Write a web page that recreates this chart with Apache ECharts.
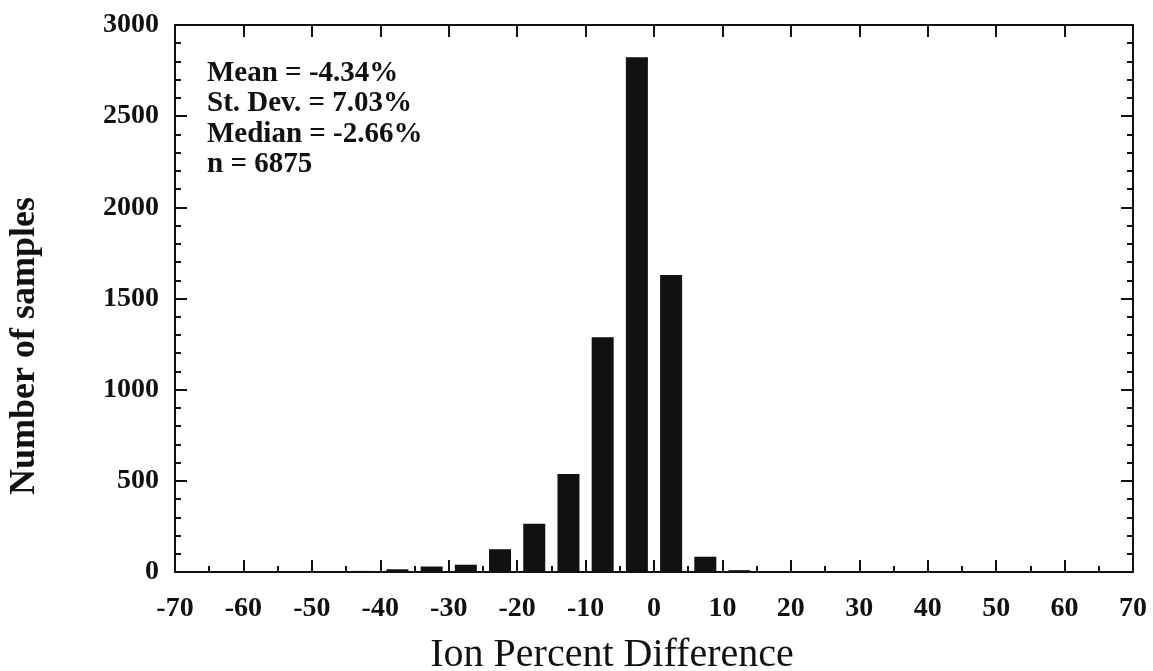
<!DOCTYPE html>
<html>
<head>
<meta charset="utf-8">
<script src="https://cdn.jsdelivr.net/npm/echarts@6/dist/echarts.min.js"></script>
<style>
  html, body { margin: 0; padding: 0; background: #fff; }
  #chart { width: 1153px; height: 671px; }
</style>
</head>
<body>
<div id="chart"></div>
<script>
// Histogram of ion percent differences, 5-point bins
const binCenters = [-67.5, -62.5, -57.5, -52.5, -47.5, -42.5, -37.5, -32.5, -27.5, -22.5,
                    -17.5, -12.5, -7.5, -2.5, 2.5, 7.5, 12.5, 17.5, 22.5, 27.5,
                    32.5, 37.5, 42.5, 47.5, 52.5, 57.5, 62.5, 67.5];
const sampleCounts = [0, 1, 3, 4, 3, 6, 15, 30, 40, 125,
                      265, 537, 1287, 2823, 1629, 84, 10, 5, 2, 2,
                      1, 1, 1, 1, 0, 0, 0, 0];
const xTicks = { min: -70, max: 70, step: 10 };
const yTicks = { min: 0, max: 3000, step: 500 };
const statLines = ['Mean = -4.34%', 'St. Dev. = 7.03%', 'Median = -2.66%', 'n = 6875'];

const ink = '#111';
const serif = '"Liberation Serif", "Times New Roman", serif';

const chart = echarts.init(document.getElementById('chart'), null, { renderer: 'canvas' });

const plainNumber = (v) => String(v);

const baseX = {
  type: 'value', min: xTicks.min, max: xTicks.max, interval: xTicks.step,
  splitLine: { show: false },
  axisLine: { show: true, onZero: false, lineStyle: { color: ink, width: 2 } }
};
const baseY = {
  type: 'value', min: yTicks.min, max: yTicks.max, interval: yTicks.step,
  splitLine: { show: false },
  axisLine: { show: true, onZero: false, lineStyle: { color: ink, width: 2 } }
};

chart.setOption({
  animation: false,
  backgroundColor: '#fff',
  grid: { left: 175, right: 20, top: 25, bottom: 99, containLabel: false, outerBoundsMode: 'none' },
  xAxis: [
    Object.assign({}, baseX, {
      position: 'bottom',
      axisTick: { show: true, inside: true, length: 12, lineStyle: { color: ink, width: 2 } },
      minorTick: { show: true, splitNumber: 2, length: 6, lineStyle: { color: ink, width: 2 } },
      axisLabel: { show: true, margin: 23, color: ink, fontFamily: serif, fontWeight: 'bold', fontSize: 28, formatter: plainNumber }
    }),
    Object.assign({}, baseX, {
      position: 'top',
      axisTick: { show: true, inside: true, length: 12, lineStyle: { color: ink, width: 2 } },
      axisLabel: { show: false }
    })
  ],
  yAxis: [
    Object.assign({}, baseY, {
      position: 'left',
      axisTick: { show: true, inside: true, length: 12, lineStyle: { color: ink, width: 2 } },
      minorTick: { show: true, splitNumber: 5, length: 6, lineStyle: { color: ink, width: 2 } },
      axisLabel: { show: true, margin: 16, color: ink, fontFamily: serif, fontWeight: 'bold', fontSize: 28, formatter: plainNumber }
    }),
    Object.assign({}, baseY, {
      position: 'right',
      axisTick: { show: true, inside: true, length: 12, lineStyle: { color: ink, width: 2 } },
      minorTick: { show: true, splitNumber: 5, length: 6, lineStyle: { color: ink, width: 2 } },
      axisLabel: { show: false }
    })
  ],
  graphic: [
    {
      type: 'text', left: 207, top: 58, silent: true,
      style: {
        text: statLines.join('\n'),
        fill: ink, font: 'bold 29px ' + serif, lineHeight: 30.5
      }
    },
    {
      type: 'text', x: 25, y: 346, rotation: Math.PI / 2, silent: true,
      style: {
        text: 'Number of samples',
        fill: ink, font: 'bold 36px ' + serif,
        align: 'center', verticalAlign: 'middle'
      }
    },
    {
      type: 'text', x: 612, y: 655, silent: true,
      style: {
        text: 'Ion Percent Difference',
        fill: ink, font: '40px ' + serif,
        align: 'center', verticalAlign: 'middle'
      }
    }
  ],
  series: [{
    type: 'bar',
    xAxisIndex: 0, yAxisIndex: 0,
    barWidth: 22,
    itemStyle: { color: ink },
    data: binCenters.map((c, i) => [c, sampleCounts[i]])
  }]
});
</script>
</body>
</html>
